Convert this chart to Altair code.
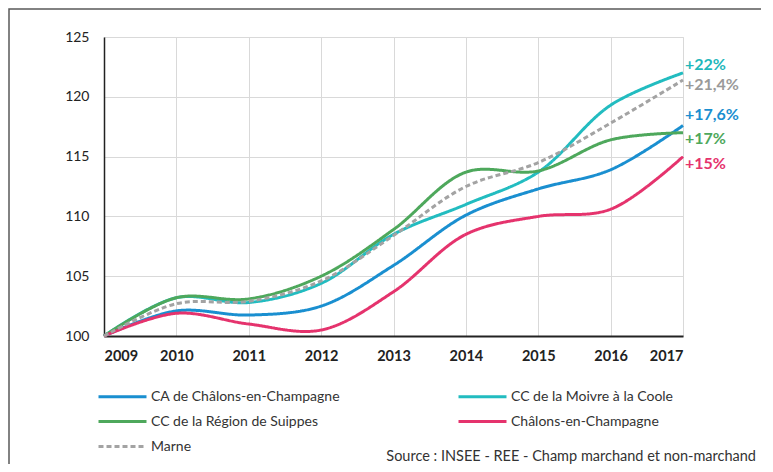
import altair as alt
import pandas as pd

years = [2009, 2010, 2011, 2012, 2013, 2014, 2015, 2016, 2017]
series_names = [
    "CA de Châlons-en-Champagne",
    "CC de la Moivre à la Coole",
    "CC de la Région de Suippes",
    "Châlons-en-Champagne",
    "Marne",
]
ca = [100, 102.1, 101.75, 102.5, 105.9, 110.1, 112.3, 113.9, 117.6]
moivre = [100, 103.2, 102.8, 104.4, 108.5, 111.0, 113.7, 119.3, 122.0]
suippes = [100, 103.2, 103.1, 105.0, 108.9, 113.7, 113.8, 116.4, 117.0]
chalons = [100, 101.9, 101.0, 100.5, 103.7, 108.5, 110.0, 110.6, 115.0]
marne = [100, 102.7, 102.9, 104.6, 108.4, 112.5, 114.5, 117.8, 121.4]
colors = ["#1a8fd0", "#22bcc0", "#4ea85c", "#e5336d", "#a3a3a3"]
text_colors = ["#1a8fd0", "#1fb8bb", "#4ea85c", "#e5336d", "#9a9a9a"]
dashes = [[1, 0], [1, 0], [1, 0], [1, 0], [5, 3]]
end_labels = ["+17,6%", "+22%", "+17%", "+15%", "+21,4%"]
label_y = [118.5, 122.7, 116.5, 114.4, 121.0]
source_text = "Source : INSEE - REE - Champ marchand et non-marchand"

values = [ca, moivre, suippes, chalons, marne]
rows = []
for name, vals in zip(series_names, values):
    for yr, v in zip(years, vals):
        rows.append({"annee": yr, "indice": v, "serie": name})
df = pd.DataFrame(rows)

lab_df = pd.DataFrame({
    "annee": [years[-1]] * len(series_names),
    "indice": label_y,
    "texte": end_labels,
    "couleur": text_colors,
})

FONT = "Lato"

x_enc = alt.X(
    "annee:Q",
    scale=alt.Scale(domain=[2009, 2017], nice=False, zero=False),
    axis=alt.Axis(
        title=None, values=years, format="d", labelFontWeight="bold",
        labelFontSize=14.5, labelColor="#222", labelPadding=13, tickSize=0,
        domainColor="#222", domainWidth=2, gridColor="#d9d9d9",
        labelFont=FONT,
    ),
)
y_enc = alt.Y(
    "indice:Q",
    scale=alt.Scale(domain=[100, 125], nice=False, zero=False),
    axis=alt.Axis(
        title=None, values=[100, 105, 110, 115, 120, 125], labelFontSize=14,
        labelColor="#222", labelPadding=15, tickSize=0, domainColor="#222",
        domainWidth=1.5, gridColor="#d9d9d9", labelFont=FONT,
    ),
)

legend_cfg = dict(
    title=None, orient="none", legendX=-7, legendY=350, columns=2,
    direction="horizontal",
    symbolType="M-1,0H5", symbolSize=256, symbolStrokeWidth=3,
    labelFontSize=14, labelColor="#333", labelFont=FONT,
    columnPadding=112, rowPadding=8, labelOffset=35, symbolOffset=0,
    labelLimit=400,
)

lines = alt.Chart(df).mark_line(interpolate="catmull-rom", strokeWidth=3, clip=False).encode(
    x=x_enc,
    y=y_enc,
    color=alt.Color(
        "serie:N",
        scale=alt.Scale(domain=series_names, range=colors),
        sort=series_names,
        legend=alt.Legend(**legend_cfg),
    ),
    strokeDash=alt.StrokeDash(
        "serie:N",
        scale=alt.Scale(domain=series_names, range=dashes),
        sort=series_names,
        legend=alt.Legend(**legend_cfg),
    ),
    order=alt.Order("serie:N"),
)

labels = alt.Chart(lab_df).mark_text(
    align="left", baseline="middle", dx=2, fontWeight="bold", fontSize=16, font=FONT
).encode(
    x=alt.X("annee:Q"),
    y=alt.Y("indice:Q"),
    text="texte:N",
    color=alt.Color("couleur:N", scale=None),
)

source = alt.Chart(pd.DataFrame({"t": [source_text]})).mark_text(
    align="right", baseline="alphabetic", fontSize=14.5, color="#333", font=FONT
).encode(text="t:N", x=alt.value(652), y=alt.value(424))

frame = alt.Chart(pd.DataFrame({"t": [0]})).mark_rect(
    fillOpacity=0, stroke="#595959", strokeWidth=1.5
).encode(x=alt.value(-95), x2=alt.value(800), y=alt.value(-28), y2=alt.value(600))

chart = alt.layer(frame, lines, labels, source).properties(
    width=579, height=299,
    padding={"left": 96, "top": 29, "right": 78, "bottom": 128},
    autosize=alt.AutoSizeParams(type="none"),
).configure_view(stroke=None).configure(font=FONT)

chart.save("out.html", embed_options={"renderer": "svg", "actions": False})
